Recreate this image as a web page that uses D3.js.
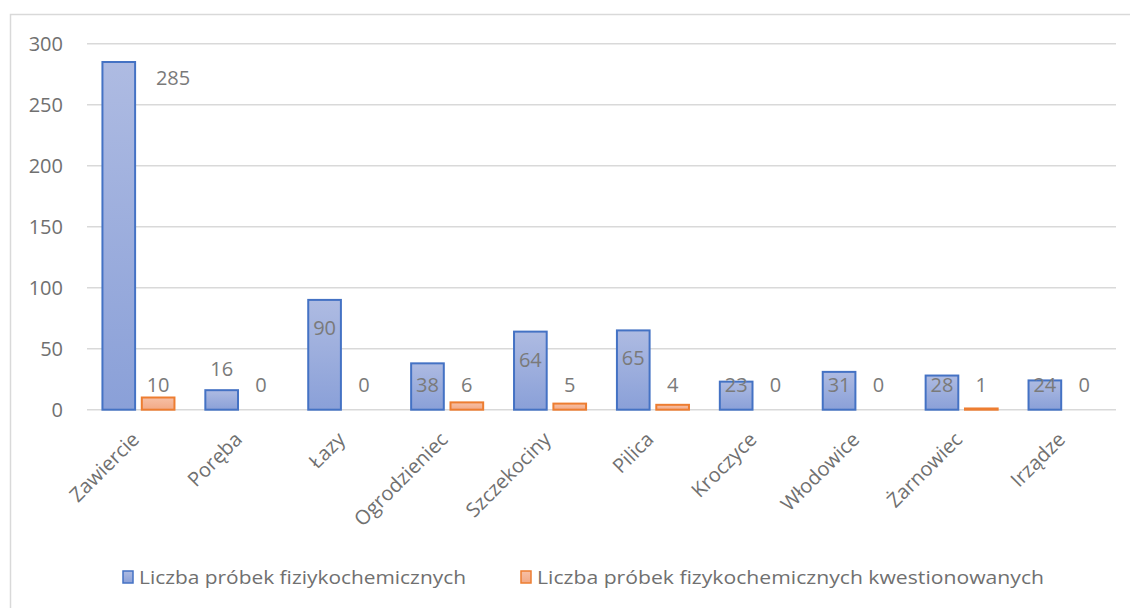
<!DOCTYPE html>
<html><head><meta charset="utf-8">
<script src="https://cdn.jsdelivr.net/npm/d3@7"></script>
<style>body{margin:0;background:#fff}svg{display:block}text{font-family:"Open Sans",sans-serif}</style>
</head><body>
<script>
const categories = ["Zawiercie","Poręba","Łazy","Ogrodzieniec","Szczekociny","Pilica","Kroczyce","Włodowice","Żarnowiec","Irządze"];
const seriesNames = ["Liczba próbek fiziykochemicznych","Liczba próbek fizykochemicznych kwestionowanych"];
const samples = [285,16,90,38,64,65,23,31,28,24];
const questioned = [10,0,0,6,5,4,0,0,1,0];
const yTicks = [0,50,100,150,200,250,300];

const W=1130,H=608;
const svg=d3.select("body").append("svg").attr("width",W).attr("height",H);
const defs=svg.append("defs");
function grad(id,c1,c2){const g=defs.append("linearGradient").attr("id",id).attr("x1",0).attr("y1",0).attr("x2",0).attr("y2",1);
 g.append("stop").attr("offset","0%").attr("stop-color",c1);g.append("stop").attr("offset","100%").attr("stop-color",c2);}
grad("gb","#aebbe2","#8aa0d8");
grad("go","#f7c0a6","#f2a985");

svg.append("rect").attr("x",10.5).attr("y",14.5).attr("width",1200).attr("height",700).attr("fill","none").attr("stroke","#d9d9d9").attr("stroke-width",1.5);

const L=87,R=1116,T=43.7,B=409.7;
const y=d3.scaleLinear().domain([0,300]).range([B,T]);
const x0=d3.scaleBand().domain(categories).range([L,R]).paddingInner(0.3).paddingOuter(0.15);
const x1=d3.scaleBand().domain([0,1]).range([0,x0.bandwidth()]).paddingInner(0.17);

// gridlines
svg.append("g").selectAll("line").data(yTicks).join("line")
 .attr("x1",L).attr("x2",R).attr("y1",d=>y(d)).attr("y2",d=>y(d))
 .attr("stroke","#d9d9d9").attr("stroke-width",1.5);

// y axis labels
const yAxis=d3.axisLeft(y).tickValues(yTicks).tickSize(0).tickPadding(0);
const ya=svg.append("g").attr("transform",`translate(63,0)`).call(yAxis);
ya.select(".domain").remove();
ya.selectAll("text").attr("font-size",20).attr("fill","#707070").attr("font-family","Open Sans").attr("dy","0.35em");

const data=categories.map((c,i)=>({c,v:[samples[i],questioned[i]]}));
const fills=["url(#gb)","url(#go)"], strokes=["#4472c4","#ed7d31"];

const g=svg.append("g");
data.forEach(d=>{
 d.v.forEach((v,s)=>{
  if(v<=0) return;
  g.append("rect").attr("x",x0(d.c)+x1(s)).attr("y",y(v)).attr("width",x1.bandwidth()).attr("height",B-y(v))
   .attr("fill",fills[s]).attr("stroke",strokes[s]).attr("stroke-width",2);
 });
});

// data labels
data.forEach(d=>{
 d.v.forEach((v,s)=>{
  const cx=x0(d.c)+x1(s)+x1.bandwidth()/2;
  let lx=cx, ly;
  const top=y(v);
  if(s===0){
   if(v>250){lx=x0(d.c)+x1(0)+x1.bandwidth()+38; ly=top+16;}
   else if(v>=50) ly=top+28;
   else if(v>=20) ly=385;
   else ly=top-21;
  } else ly=Math.min(top-13,385);
  svg.append("text").attr("x",lx).attr("y",ly).attr("dy","0.35em").attr("text-anchor","middle")
   .attr("font-size",20).attr("fill","#7a7a7a").text(v);
 });
});

// category labels
const xAxis=d3.axisBottom(x0).tickSize(0).tickPadding(0);
const xa=svg.append("g").attr("transform",`translate(0,${B})`).call(xAxis);
xa.select(".domain").remove();
xa.selectAll("text").attr("font-size",20).attr("fill","#707070").attr("font-family","Open Sans")
 .attr("text-anchor","end").attr("dy",null).attr("y",null)
 .attr("transform","translate(2,31) rotate(-45)");

// legend
const lg=svg.append("g");
const lx=[123,521], tl=[327,507];
seriesNames.forEach((n,i)=>{
 lg.append("rect").attr("x",lx[i]).attr("y",571).attr("width",10).attr("height",12).attr("fill",fills[i]).attr("stroke",strokes[i]).attr("stroke-width",1.5);
 lg.append("text").attr("x",lx[i]+16).attr("y",577).attr("dy","0.35em").attr("font-size",19).attr("fill","#707070")
  .attr("textLength",tl[i]).attr("lengthAdjust","spacingAndGlyphs").text(n);
});
</script>
</body></html>
